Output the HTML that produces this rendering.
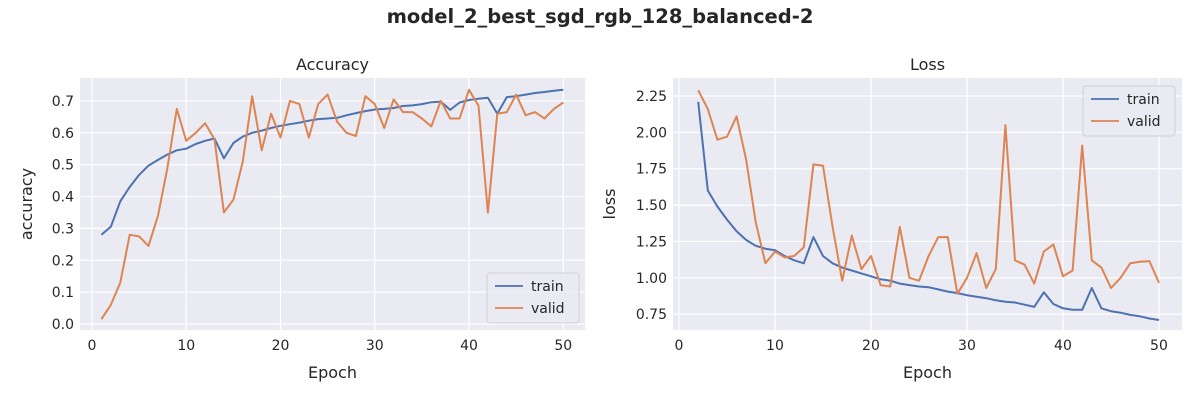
<!DOCTYPE html>
<html><head><meta charset="utf-8"><style>
body{margin:0;background:#fff;font-family:"Liberation Sans","DejaVu Sans",sans-serif;}
svg text{font-family:"DejaVu Sans","Liberation Sans",sans-serif;fill:#262626;}
</style></head><body>
<svg id="c" width="1200" height="400" xmlns="http://www.w3.org/2000/svg">
<text x="600" y="23" text-anchor="middle" font-size="19.5" font-weight="bold">model_2_best_sgd_rgb_128_balanced-2</text>
</svg>
<script>
const accEpochs=[1,2,3,4,5,6,7,8,9,10,11,12,13,14,15,16,17,18,19,20,21,22,23,24,25,26,27,28,29,30,31,32,33,34,35,36,37,38,39,40,41,42,43,44,45,46,47,48,49,50];
const accTrain=[0.28,0.305,0.385,0.43,0.468,0.497,0.515,0.532,0.545,0.55,0.565,0.575,0.582,0.52,0.568,0.588,0.6,0.607,0.615,0.622,0.627,0.632,0.638,0.643,0.645,0.647,0.655,0.662,0.668,0.673,0.675,0.678,0.684,0.686,0.69,0.696,0.698,0.672,0.695,0.703,0.707,0.71,0.66,0.712,0.715,0.72,0.725,0.728,0.732,0.735];
const accValid=[0.015,0.06,0.13,0.28,0.275,0.245,0.34,0.49,0.675,0.575,0.6,0.63,0.58,0.35,0.39,0.51,0.715,0.545,0.66,0.585,0.7,0.69,0.585,0.69,0.72,0.635,0.6,0.59,0.715,0.69,0.615,0.705,0.665,0.665,0.645,0.62,0.7,0.645,0.645,0.735,0.685,0.35,0.66,0.665,0.72,0.655,0.665,0.645,0.675,0.695];
const lossEpochs=[2,3,4,5,6,7,8,9,10,11,12,13,14,15,16,17,18,19,20,21,22,23,24,25,26,27,28,29,30,31,32,33,34,35,36,37,38,39,40,41,42,43,44,45,46,47,48,49,50];
const lossTrain=[2.21,1.6,1.49,1.4,1.32,1.26,1.22,1.2,1.19,1.15,1.12,1.1,1.28,1.15,1.1,1.07,1.05,1.03,1.01,0.99,0.98,0.96,0.95,0.94,0.935,0.92,0.905,0.895,0.88,0.87,0.86,0.845,0.835,0.83,0.815,0.8,0.9,0.82,0.79,0.78,0.78,0.93,0.79,0.77,0.76,0.745,0.735,0.72,0.71];
const lossValid=[2.29,2.16,1.95,1.97,2.11,1.81,1.38,1.1,1.18,1.14,1.15,1.21,1.78,1.77,1.35,0.98,1.29,1.06,1.15,0.95,0.94,1.35,1.0,0.98,1.15,1.28,1.28,0.89,1.0,1.17,0.93,1.06,2.05,1.12,1.09,0.96,1.18,1.23,1.01,1.05,1.91,1.12,1.07,0.93,1.0,1.1,1.11,1.115,0.965];
const xTicks=[0,10,20,30,40,50];
const accYTicks=[0,0.1,0.2,0.3,0.4,0.5,0.6,0.7];
const lossYTicks=[0.75,1.0,1.25,1.5,1.75,2.0,2.25];

const NS='http://www.w3.org/2000/svg';
const svg=document.getElementById('c');
function mk(tag,attrs,parent){const e=document.createElementNS(NS,tag);for(const k in attrs)e.setAttribute(k,attrs[k]);(parent||svg).appendChild(e);return e;}

function panel(p){
  const g=mk('g',{});
  
  
  const bg=mk('rect',{x:p.x0,y:p.y0,width:p.x1-p.x0,height:p.y1-p.y0,fill:'#eaeaf2'},g);
  
  
  const sx=v=>p.x0+(v-p.xmin)/(p.xmax-p.xmin)*(p.x1-p.x0);
  const sy=v=>p.y1-(v-p.ymin)/(p.ymax-p.ymin)*(p.y1-p.y0);
  xTicks.forEach(t=>{
    const l=mk('line',{x1:sx(t),x2:sx(t),y1:p.y0,y2:p.y1,stroke:'#fff','stroke-width':1.2},g);
    
    
    const tx=mk('text',{x:sx(t),y:p.y1+20,'text-anchor':'middle','font-size':14},g);
    tx.textContent=t;
    
    
  });
  p.yTicks.forEach(t=>{
    const l=mk('line',{x1:p.x0,x2:p.x1,y1:sy(t),y2:sy(t),stroke:'#fff','stroke-width':1.2},g);
    
    
    const tx=mk('text',{x:p.x0-6,y:sy(t)+5,'text-anchor':'end','font-size':14},g);
    tx.textContent=t.toFixed(p.dec);
    
    
  });
  const series=[[p.train,'#4c72b0','train'],[p.valid,'#dd8452','valid']];
  series.forEach(([vals,col,nm])=>{
    const pts=vals.map((v,i)=>sx(p.ep[i]).toFixed(1)+','+sy(v).toFixed(1)).join(' ');
    const pl=mk('polyline',{points:pts,fill:'none',stroke:col,'stroke-width':2,'stroke-linejoin':'round'},g);
    
    
  });
  const t=mk('text',{x:(p.x0+p.x1)/2,y:p.y0-8,'text-anchor':'middle','font-size':16},g);
  t.textContent=p.title;
  
  
  const xl=mk('text',{x:(p.x0+p.x1)/2,y:p.y1+48,'text-anchor':'middle','font-size':16},g);
  xl.textContent='Epoch';
  
  
  const yx=p.x0-p.ylOff, yy=(p.y0+p.y1)/2;
  const yl=mk('text',{x:yx,y:yy,'text-anchor':'middle','font-size':16,transform:'rotate(-90 '+yx+' '+yy+')'},g);
  yl.textContent=p.ylabel;
  
  
  const lg=mk('g',{},g);
  
  
  mk('rect',{x:p.lx,y:p.ly,width:92,height:50,rx:3,fill:'#eaeaf2','fill-opacity':0.8,stroke:'#d0d0d0'},lg);
  series.forEach(([v,col,nm],i)=>{
    const e=mk('g',{},lg);
    
    
    mk('line',{x1:p.lx+8,x2:p.lx+36,y1:p.ly+13+i*22,y2:p.ly+13+i*22,stroke:col,'stroke-width':1.8},e);
    const tt=mk('text',{x:p.lx+44,y:p.ly+18+i*22,'font-size':14},e);
    tt.textContent=nm;
  });
}
panel({name:'accuracy',x0:80,x1:585,y0:78,y1:330,xmin:-1.27,xmax:52.3,ymin:-0.0188,ymax:0.772,yTicks:accYTicks,dec:1,ep:accEpochs,train:accTrain,valid:accValid,title:'Accuracy',ylabel:'accuracy',ylOff:48,lx:487,ly:273});
panel({name:'loss',x0:673,x1:1182,y0:78,y1:330,xmin:-0.62,xmax:52.4,ymin:0.641,ymax:2.374,yTicks:lossYTicks,dec:2,ep:lossEpochs,train:lossTrain,valid:lossValid,title:'Loss',ylabel:'loss',ylOff:58,lx:1083,ly:86});
</script>
</body></html>
